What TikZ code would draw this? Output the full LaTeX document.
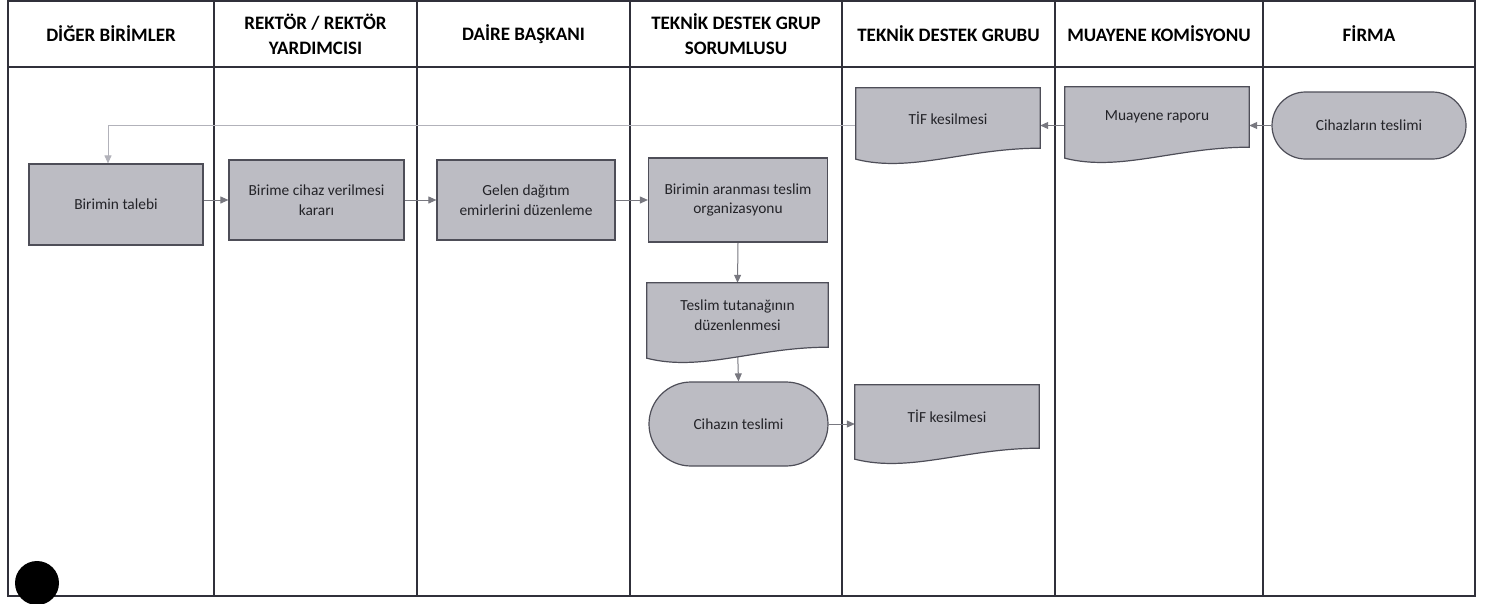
\documentclass[tikz,border=0pt]{standalone}
\usepackage{fontspec}
\setmainfont{Carlito}
\usetikzlibrary{arrows.meta,shapes.misc,calc}

\pgfdeclarelayer{paper}
\pgfdeclarelayer{lanes}
\pgfdeclarelayer{links}
\pgfdeclarelayer{docs}
\pgfsetlayers{paper,lanes,links,docs,main}

\definecolor{boxfill}{RGB}{188,188,195}
\definecolor{boxline}{RGB}{78,78,88}
\definecolor{laneline}{RGB}{48,48,58}
\definecolor{linkgray}{RGB}{120,120,128}
\definecolor{returngray}{RGB}{178,178,186}
\definecolor{txt}{RGB}{35,35,40}

\tikzset{
  head/.style={font=\bfseries\fontsize{19}{25}\selectfont, align=center, text=black},
  boxtext/.style={font=\fontsize{15.4}{19.5}\selectfont, align=center, text=txt, inner sep=0pt},
  procbox/.style={boxtext, rectangle, draw=boxline, fill=boxfill, line width=1.2pt},
  termbox/.style={boxtext, rounded rectangle, draw=boxline, fill=boxfill, line width=1.2pt},
  docbox/.style={boxtext, rectangle},
  link/.style={draw=linkgray, line width=1pt, -{Triangle[length=8pt,width=7pt]}},
  backlink/.style={draw=returngray, line width=1pt, -{Triangle[length=8pt,width=7pt]}},
  lane/.style={draw=laneline, line width=1.4pt},
}

% document symbol: flat top, wavy bottom drawn around a placeholder node
\newcommand\docshape[1]{%
  \begin{pgfonlayer}{docs}
    \path[draw=boxline, fill=boxfill, line width=1.2pt]
      (#1.north west) -- (#1.north east) -- (#1.south east)
      .. controls ($(#1.south west)!0.6!(#1.south east)$)
         and ($(#1.south west)!0.3!(#1.south east) + (0,25)$)
      .. ($(#1.south west) + (0,11)$) -- cycle;
  \end{pgfonlayer}}

\begin{document}
\begin{tikzpicture}[x=1pt, y=-1pt]
\useasboundingbox (0,0) rectangle (1493,603);
\begin{pgfonlayer}{paper}
  \fill[white] (0,0) rectangle (1493,603);
\end{pgfonlayer}

% swimlane frame
\begin{pgfonlayer}{lanes}
  \path[lane] (8,1) rectangle (1475,596);
  \path[lane] (8,67) -- (1475,67);
  \foreach \xx in {214,417,630,842,1055,1263}
    \path[lane] (\xx,1) -- (\xx,596);
\end{pgfonlayer}

% lane headers
\node[head] (h1) at (111,34)   {DİĞER BİRİMLER};
\node[head] (h2) at (315.5,34) {REKTÖR / REKTÖR\\YARDIMCISI};
\node[head] (h3) at (523.5,34) {DAİRE BAŞKANI};
\node[head] (h4) at (736,34)   {TEKNİK DESTEK GRUP\\SORUMLUSU};
\node[head] (h5) at (948.5,34) {TEKNİK DESTEK GRUBU};
\node[head] (h6) at (1159,34)  {MUAYENE KOMİSYONU};
\node[head] (h7) at (1369,34)  {FİRMA};

% process steps
\node[procbox, minimum width=174pt, minimum height=81pt] (n1) at (116,204.5) {Birimin talebi};
\node[procbox, minimum width=175pt, minimum height=80pt] (n2) at (316.5,200) {Birime cihaz verilmesi\\kararı};
\node[procbox, minimum width=178pt, minimum height=80pt] (n3) at (526,200) {Gelen dağıtım\\emirlerini düzenleme};
\node[procbox, minimum width=179pt, minimum height=84pt] (n4) at (738,200) {Birimin aranması teslim\\organizasyonu};
\node[docbox, minimum width=181pt, minimum height=64pt] (n5) at (737.5,315) {Teslim tutanağının\\düzenlenmesi};
\node[termbox, minimum width=179pt, minimum height=84pt] (n6) at (738.5,424) {Cihazın teslimi};
\node[docbox, minimum width=184pt, minimum height=63pt] (n7) at (947,416.5) {TİF kesilmesi};
\node[docbox, minimum width=184pt, minimum height=60pt] (n8) at (948,118) {TİF kesilmesi};
\node[docbox, minimum width=184pt, minimum height=60pt] (n9) at (1157,117) {Muayene raporu};
\node[termbox, minimum width=194pt, minimum height=67pt] (n10) at (1369,125.5) {Cihazların teslimi};

\docshape{n5}
\docshape{n7}
\docshape{n8}
\docshape{n9}

% connectors
\begin{pgfonlayer}{links}
  \path[link] (n2.west -| n1.east) -- (n2.west);
  \path[link] (n2.east) -- (n3.west);
  \path[link] (n3.east) -- (n4.west);
  \path[link] (n4.south) -- (n5.north);
  \path[link] (n5.south) -- (n6.north);
  \path[link] (n6.east) -- (n6.east -| n7.west);
  \path[link] (n10.west) -- (n10.west -| n9.east);
  \path[link] (n10.west -| n9.west) -- (n10.west -| n8.east);
  \path[backlink] (n10.west -| n8.west) -| ([xshift=-8pt]n1.north);
\end{pgfonlayer}

% round black mark in the lower left corner
\fill[black] (37,583) circle[radius=22];
\end{tikzpicture}
\end{document}
